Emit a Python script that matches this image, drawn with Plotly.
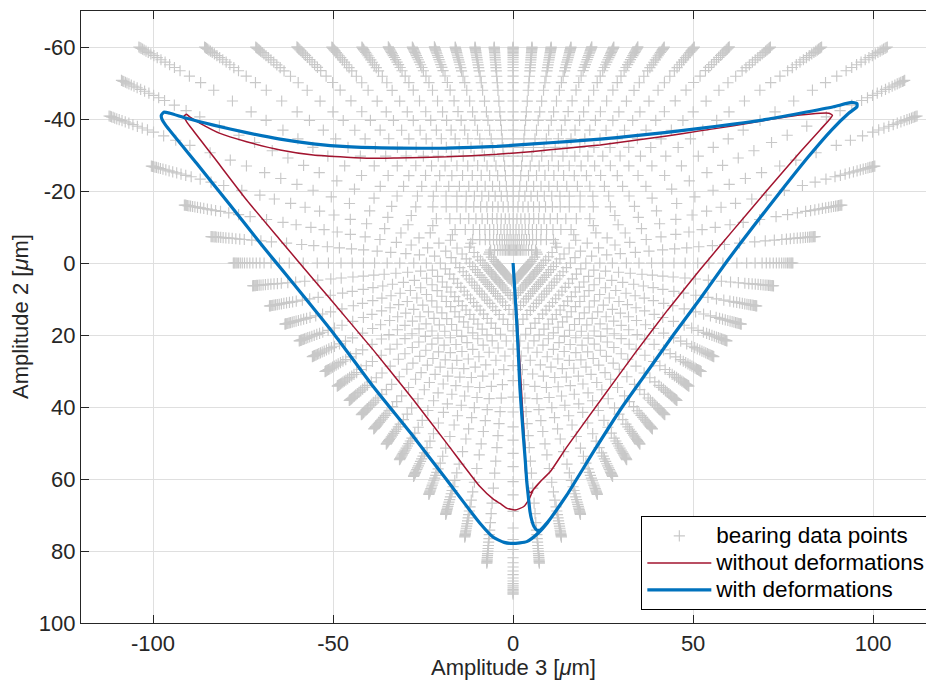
import math
import plotly.graph_objects as go

# ---------------- data ----------------
# bearing data grid: rays every 5 deg (measured clockwise from "up" on screen)
RAY_ANGLE_DEG = [0, 5, 10, 15, 20, 25, 30, 35, 40, 45, 50, 55, 60, 65, 70, 75, 80, 85,
                 90, 95, 100, 105, 110, 115, 120, 125, 130, 135, 140, 145, 150, 155, 160, 165, 170, 175,
                 180, 185, 190, 195, 200, 205, 210, 215, 220, 225, 230, 235, 240, 245, 250, 255, 260, 265,
                 270, 275, 280, 285, 290, 295, 300, 305, 310, 315, 320, 325, 330, 335, 340, 345, 350, 355]
RAY_OUTER_RADIUS = [60.0, 60.2, 60.9, 62.1, 63.9, 66.2, 69.3, 73.2, 78.3, 84.9, 93.3, 104.6, 120.0, 120.0, 119.4, 104.0, 92.7, 84.2,
                    77.7, 72.6, 68.7, 65.6, 63.2, 61.5, 60.3, 59.6, 59.4, 59.6, 60.2, 61.4, 63.1, 65.4, 68.4, 72.3, 77.3, 83.7,
                    92.0, 83.7, 77.3, 72.3, 68.4, 65.4, 63.1, 61.4, 60.2, 59.6, 59.4, 59.6, 60.3, 61.5, 63.2, 65.6, 68.7, 72.6,
                    77.7, 84.2, 92.7, 104.0, 119.4, 120.0, 120.0, 104.6, 93.3, 84.9, 78.3, 73.2, 69.3, 66.2, 63.9, 62.1, 60.9, 60.2]
RADIAL_FRACTION = [0.06, 0.108, 0.155, 0.205, 0.26, 0.31, 0.355, 0.405, 0.45, 0.495, 0.535, 0.575,
                   0.615, 0.66, 0.70, 0.75, 0.80, 0.835, 0.865, 0.89, 0.905, 0.918, 0.93, 0.941,
                   0.951, 0.96, 0.968, 0.975, 0.981, 0.986, 0.99, 0.994, 0.997, 1.0]

# orbit without deformations
RED_X = [0, 1.0, 1.9, 2.6, 3.3, 3.4, 3.8, 4.7, 7.5, 10.3, 15.0, 24.4, 33.8, 42.9, 51.9, 61.2, 70.6, 79.8,
         85.2, 88.0, 88.7, 87.7, 85.3, 79.7, 70.4, 61.2, 51.9, 42.7, 33.4, 24.2, 14.9, 5.6, -4.5, -18.4,
         -32.3, -39.7, -46.2, -55.5, -64.7, -74.0, -81.4, -86.9, -89.7, -90.7, -91.4, -90.8, -89.7, -83.2,
         -74.0, -64.7, -55.3, -51.3, -38.8, -27.7, -18.4, -9.2, -5.5, -3.6, -1.8, 0.6, 2.9, 4.5, 5.6, 7.5, 10.3]
RED_Y = [0, 14, 28, 40, 51.5, 57, 61, 63.8, 60.8, 58.0, 51.0, 38.0, 25.1, 13.1, 1.9, -9.2, -20.3, -30.9,
         -36.9, -40.0, -41.0, -41.6, -41.6, -41.1, -39.7, -38.1, -36.7, -35.3, -34.0, -32.8, -31.9, -31.0, -30.2, -29.5,
         -29.2, -29.1, -29.4, -30.0, -31.4, -33.7, -36.0, -38.8, -40.5, -41.3, -40.8, -39.5, -37.9, -29.5,
         -17.5, -6.4, 4.7, 9.4, 24.2, 38.0, 50.1, 62.1, 65.6, 66.8, 68.1, 68.6, 67.7, 65.5, 63.0, 60.8, 58.0]

# orbit with deformations
BLUE_X = [0, 0.5, 1.0, 1.5, 1.9, 2.4, 2.9, 3.4, 3.8, 4.3, 4.7, 5.2, 5.8, 6.6, 7.5, 8.8, 10.5, 14.9, 22.6,
          30.3, 37.4, 44.5, 51.9, 59.4, 66.6, 74.4, 82.0, 88.5, 93.2, 95.5, 95.5, 94.0, 89.0, 79.7, 70.4, 61.2, 51.9,
          42.7, 33.4, 24.2, 14.9, 5.6, -4.5, -18.4, -32.3, -46.2, -55.5, -64.7, -74.0, -83.2, -90.7, -95.3,
          -97.0, -97.7, -97.5, -96.5, -87.9, -78.6, -69.4, -62.0, -49.9, -38.8, -27.7, -18.4, -9.2, -5.5,
          -2.5, 0, 3.8, 7.0, 9.5, 14.9]
BLUE_Y = [0, 8, 16.3, 26, 34.8, 42, 48.7, 55, 60.7, 65.5, 69.1, 71.5, 73.2, 74.2, 74.2, 72.9, 70.8, 64.5, 52.0,
          40.0, 30.0, 20.0, 10.0, -0.5, -10.0, -20.0, -29.5, -37.0, -41.6, -43.4, -44.3, -44.6, -43.4, -41.6, -39.9, -38.6, -37.4,
          -36.3, -35.3, -34.4, -33.7, -33.1, -32.4, -31.9, -31.9, -32.3, -33.1, -34.4, -36.2, -38.3, -40.2, -41.6,
          -41.9, -41.0, -39.9, -38.3, -27.7, -16.1, -4.5, 4.5, 19.5, 34.4, 48.2, 60.3, 72.3, 76.2,
          77.6, 77.9, 77.4, 75.0, 72.2, 64.5]

X_TICKS = [-100, -50, 0, 50, 100]
X_TICK_TEXT = ["-100", "-50", "0", "50", "100"]
Y_TICKS = [-60, -40, -20, 0, 20, 40, 60, 80, 100]
Y_TICK_TEXT = ["-60", "-40", "-20", "0", "20", "40", "60", "80", "100"]

# ---------------- build ----------------
pts_x, pts_y = [], []
for ang, rmax in zip(RAY_ANGLE_DEG, RAY_OUTER_RADIUS):
    a = math.radians(ang)
    for f in RADIAL_FRACTION:
        r = rmax * f
        pts_x.append(r * math.sin(a))
        pts_y.append(-r * math.cos(a))

FONT = "Liberation Sans, Arial, Helvetica, sans-serif"
AX = "#262626"
LEG = '<span style="font-size:22.5px">{}</span>'

fig = go.Figure()
fig.add_trace(go.Scatter(
    x=pts_x, y=pts_y, mode="markers", name=LEG.format("bearing data points"),
    marker=dict(symbol="cross-thin", size=8, color="#c8c8c8",
                line=dict(color="#c8c8c8", width=1.15)),
))
fig.add_trace(go.Scatter(
    x=RED_X, y=RED_Y, mode="lines", name=LEG.format("without deformations"),
    line=dict(color="#A2142F", width=1.5, shape="spline", smoothing=0.5),
))
fig.add_trace(go.Scatter(
    x=BLUE_X, y=BLUE_Y, mode="lines", name=LEG.format("with deformations"),
    line=dict(color="#0072BD", width=3.2, shape="spline", smoothing=0.5),
))

axis_common = dict(
    showgrid=True, gridcolor="#dfdfdf", gridwidth=1, automargin=False,
    zeroline=False, showline=True, linecolor=AX, linewidth=1.3,
    ticks="inside", ticklen=8, tickwidth=1.3, tickcolor=AX,
    tickfont=dict(family=FONT, size=22, color=AX),
)

# the page body has an 8px margin, so the figure is 8px smaller and margins 8px less
fig.update_layout(
    width=926, height=676,
    margin=dict(l=73, r=0, t=3, b=61),
    paper_bgcolor="white", plot_bgcolor="white",
    font=dict(family=FONT, size=22, color=AX),
    showlegend=True,
    legend=dict(
        x=0.9977, xanchor="right", y=0.0212, yanchor="bottom",
        bgcolor="white", bordercolor="#000000", borderwidth=1.3,
        font=dict(family=FONT, size=18.5, color="#000000"),
        itemwidth=64, tracegroupgap=0, traceorder="normal",
    ),
    xaxis=dict(range=[-120, 116.9], tickvals=X_TICKS, ticktext=X_TICK_TEXT,
               mirror="ticks", **axis_common),
    yaxis=dict(range=[100, -70], tickvals=Y_TICKS, ticktext=Y_TICK_TEXT,
               mirror=False, **axis_common),
    annotations=[
        dict(text="Amplitude 3 [<i>μ</i>m]", xref="x", x=0, yref="paper", y=-0.0735,
             yanchor="middle", xanchor="center", showarrow=False,
             font=dict(family=FONT, size=22, color=AX)),
        dict(text="Amplitude 2 [<i>μ</i>m]", xref="paper", x=-0.0715, yref="paper", y=0.5,
             textangle=-90, xanchor="center", yanchor="middle", showarrow=False,
             font=dict(family=FONT, size=22, color=AX)),
    ],
)

fig.write_html("out.html")
